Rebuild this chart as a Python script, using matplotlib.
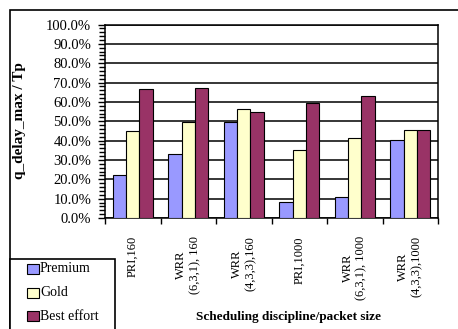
import numpy as np
import matplotlib
matplotlib.use("Agg")
import matplotlib.pyplot as plt
from matplotlib.patches import Rectangle
from matplotlib.ticker import MultipleLocator, FuncFormatter

plt.rcParams['font.family'] = ['Liberation Serif', 'DejaVu Serif']

categories = ['PRI,160', 'WRR\n(6,3,1), 160', 'WRR\n(4,3,3),160',
              'PRI,1000', 'WRR\n(6,3,1), 1000', 'WRR\n(4,3,3),1000']
series_names = ['Premium', 'Gold', 'Best effort']
premium = [22.2, 33.2, 49.5, 8.4, 10.7, 40.2]
gold = [45.2, 49.5, 56.5, 35.3, 41.6, 45.4]
best_effort = [66.9, 67.0, 54.6, 59.5, 62.9, 45.4]
colors = ['#9999FF', '#FFFFCC', '#993366']

W, H = 458, 329
fig = plt.figure(figsize=(W / 100, H / 100), dpi=100)
fig.patch.set_facecolor('white')

ax = fig.add_axes([105 / W, 1 - 218 / H, 333 / W, 193.5 / H])

x = np.arange(len(categories))
width = 0.24
for i, (vals, c) in enumerate(zip([premium, gold, best_effort], colors)):
    ax.bar(x + (i - 1) * width, vals, width, color=c, edgecolor='black',
           linewidth=0.8, zorder=3)

ax.set_xlim(-0.5, len(categories) - 0.5)
ax.set_ylim(0, 100)

# y axis: 10% majors with labels, 2% minors, all pointing out
ax.yaxis.set_major_locator(MultipleLocator(10))
ax.yaxis.set_minor_locator(MultipleLocator(2))
ax.yaxis.set_major_formatter(FuncFormatter(lambda v, p: f'{v:.1f}%'))
ax.tick_params(axis='y', which='major', direction='out', length=5,
               width=1, labelsize=10.5, pad=5)
ax.tick_params(axis='y', which='minor', direction='out', length=4, width=1)
ax.grid(axis='y', which='major', color='black', linewidth=1.1, zorder=0)
ax.set_axisbelow(True)

# x axis: tick marks between groups, labels at group centres
ax.set_xticks(np.arange(-0.5, len(categories)), minor=False)
ax.set_xticklabels([])
ax.set_xticks(x, minor=True)
ax.set_xticklabels(categories, minor=True, rotation=90, va='top',
                   ha='center', multialignment='center', fontsize=9)
ax.tick_params(axis='x', which='major', direction='out', length=4, width=1)
ax.tick_params(axis='x', which='minor', length=0, pad=13)

for s in ax.spines.values():
    s.set_color('black')
    s.set_linewidth(1.1)

fig.text(20 / W, 1 - 121 / H, 'q_delay_max / Tp', rotation=90, ha='center',
         va='center', fontsize=11, fontweight='bold')
fig.text(288 / W, 1 - 317 / H, 'Scheduling discipline/packet size',
         ha='center', va='center', fontsize=9.5, fontweight='bold')

# chart border
fig.patches.append(Rectangle((9.5 / W, -0.1), 1.0, 1.1 - 10 / H,
                             transform=fig.transFigure, fill=False,
                             edgecolor='black', linewidth=1.2))

# legend box
fig.patches.append(Rectangle((10 / W, -0.1), 105 / W, 0.1 + 1 - 259 / H,
                             transform=fig.transFigure, facecolor='white',
                             edgecolor='black', linewidth=1.2, zorder=5))
for i, (name, c) in enumerate(zip(series_names, colors)):
    yc = 269 + i * 23.5
    fig.patches.append(Rectangle((27 / W, 1 - (yc + 5) / H), 12 / W, 10 / H,
                                 transform=fig.transFigure, facecolor=c,
                                 edgecolor='black', linewidth=0.8, zorder=6))
    fig.text(40 / W, 1 - yc / H, name, ha='left', va='center', fontsize=10,
             zorder=7)

fig.savefig('out.png', dpi=100)
